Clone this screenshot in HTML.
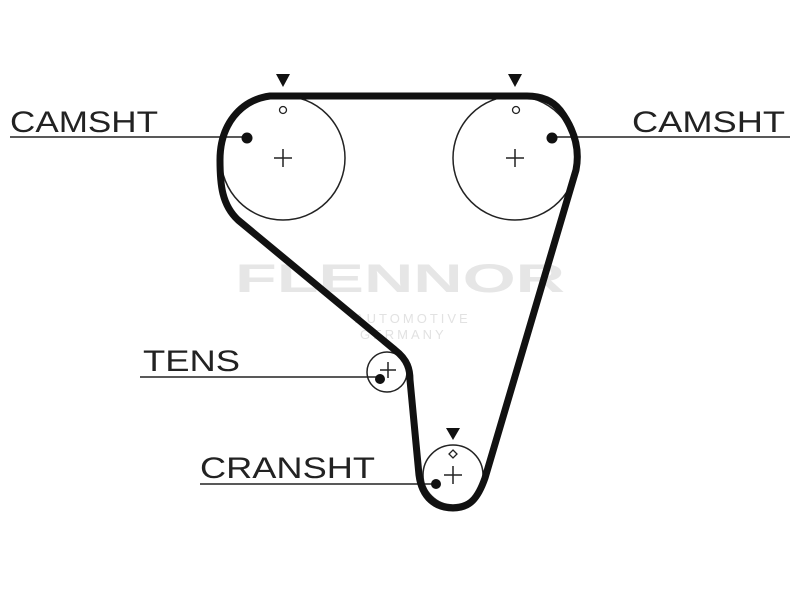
<!DOCTYPE html>
<html><head><style>body{margin:0;background:#fff}svg{display:block}</style></head><body>
<svg width="800" height="600" viewBox="0 0 800 600" xmlns="http://www.w3.org/2000/svg" font-family="Liberation Sans, sans-serif">
<rect width="800" height="600" fill="#fff"/>
<g fill="#e6e6e6" font-weight="bold"><text x="235" y="292" font-size="40" textLength="330" lengthAdjust="spacingAndGlyphs">FLENNOR</text></g>
<text x="355" y="323" font-size="13" fill="#e2e2e2" letter-spacing="3">AUTOMOTIVE</text>
<text x="360" y="339" font-size="13" fill="#e2e2e2" letter-spacing="3">GERMANY</text>
<g fill="none" stroke="#222" stroke-width="1.5">
<circle cx="283" cy="158" r="62"/>
<circle cx="515" cy="158" r="62"/>
<circle cx="387" cy="372" r="20"/>
<circle cx="453" cy="475" r="30"/>
</g>
<g stroke="#222" stroke-width="1.5">
<path d="M274 158h18M283 149v18M506 158h18M515 149v18M380 370h16M388 362v16M444 475h18M453 466v18"/>
<line x1="10" y1="137" x2="245" y2="137"/>
<line x1="552" y1="137" x2="790" y2="137"/>
<line x1="140" y1="377" x2="380" y2="377"/>
<line x1="200" y1="484" x2="437" y2="484"/>
</g>
<g fill="#111">
<circle cx="247" cy="138" r="5.5"/><circle cx="552" cy="138" r="5.5"/>
<circle cx="380" cy="379" r="5"/><circle cx="436" cy="484" r="5"/>
<path d="M276 74h14l-7 13z"/><path d="M508 74h14l-7 13z"/><path d="M446 428h14l-7 12z"/>
</g>
<g fill="#fff" stroke="#222" stroke-width="1.3"><circle cx="283" cy="110" r="3.5"/><circle cx="516" cy="110" r="3.5"/><path d="M453 450l4 4-4 4-4-4z"/></g>
<path d="M527 96H270C240 100 220 125 220 160C220 185 222 205 238 220L395 350C408 360 410 370 410 380L419 475C422 498 436 508 453 508C470 508 478 498 485 478L576 170C580 150 575 130 560 110C552 100 540 96 527 96Z" fill="none" stroke="#111" stroke-width="7" stroke-linejoin="round"/>
<g font-size="30" fill="#222">
<text x="10" y="132" textLength="148" lengthAdjust="spacingAndGlyphs">CAMSHT</text>
<text x="632" y="132" textLength="153" lengthAdjust="spacingAndGlyphs">CAMSHT</text>
<text x="143" y="371" textLength="97" lengthAdjust="spacingAndGlyphs">TENS</text>
<text x="200" y="478" textLength="175" lengthAdjust="spacingAndGlyphs">CRANSHT</text>
</g>
</svg>
</body></html>
